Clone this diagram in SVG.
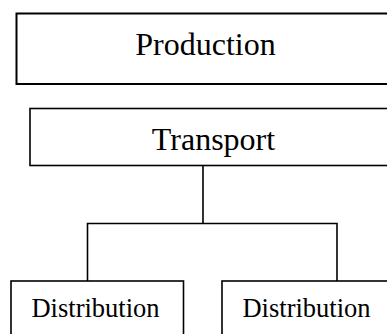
<svg xmlns="http://www.w3.org/2000/svg" width="387" height="334" viewBox="0 0 387 334">
<style>
.box{fill:#fff;stroke:#000;stroke-width:1.6}
.lbl{font-family:"Liberation Serif","Times New Roman",serif;fill:#000;text-anchor:middle}
.con{fill:none;stroke:#000;stroke-width:1.6}
</style>
<rect width="387" height="334" fill="#fff"/>
<g id="connectors">
<path class="con" d="M203,166 V223.5 M87.5,281 V223.5 H337 V281"/>
</g>
<g id="production">
<rect class="box" x="16.5" y="13.5" width="380" height="70.5" style="stroke-width:2"/>
<text class="lbl" x="205.5" y="55" font-size="32">Production</text>
</g>
<g id="transport">
<rect class="box" x="30" y="108.5" width="370" height="57"/>
<text class="lbl" x="213.5" y="150" font-size="32">Transport</text>
</g>
<g id="distribution1">
<rect class="box" x="11" y="281" width="172.5" height="70"/>
<text class="lbl" x="95.5" y="317" font-size="26.5">Distribution</text>
</g>
<g id="distribution2">
<rect class="box" x="222" y="281" width="175" height="70"/>
<text class="lbl" x="306.5" y="317" font-size="26.5">Distribution</text>
</g>
</svg>
